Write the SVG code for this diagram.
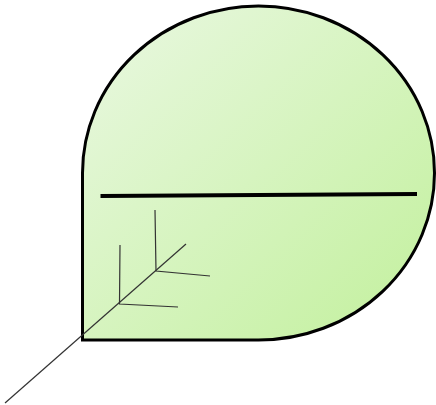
<svg xmlns="http://www.w3.org/2000/svg" width="436" height="405" viewBox="0 0 436 405">
<defs>
<linearGradient id="g" x1="0" y1="0" x2="1" y2="1">
<stop offset="0" stop-color="#eaf8e2"/>
<stop offset="1" stop-color="#c2f09c"/>
</linearGradient>
<style>
.shape{fill:url(#g);stroke:#000;stroke-width:3}
.bar{stroke:#000;stroke-width:4;fill:none}
.thin{stroke:#333;stroke-width:1.2;fill:none}
</style>
</defs>
<g id="node">
<path class="shape" d="M82.5,340 L82.5,173 A176,167 0 0 1 258.5,6 A176,167 0 0 1 434.5,173 A176,167 0 0 1 258.5,340 Z"/>
<path class="bar" d="M100.5,196 L417,194"/>
</g>
<g id="connectors">
<path class="thin" d="M5,403 L186,244"/>
<path class="thin" d="M120,245 L119.5,304 L178,307"/>
<path class="thin" d="M155,210 L156,271 L210,276"/>
</g>
</svg>
